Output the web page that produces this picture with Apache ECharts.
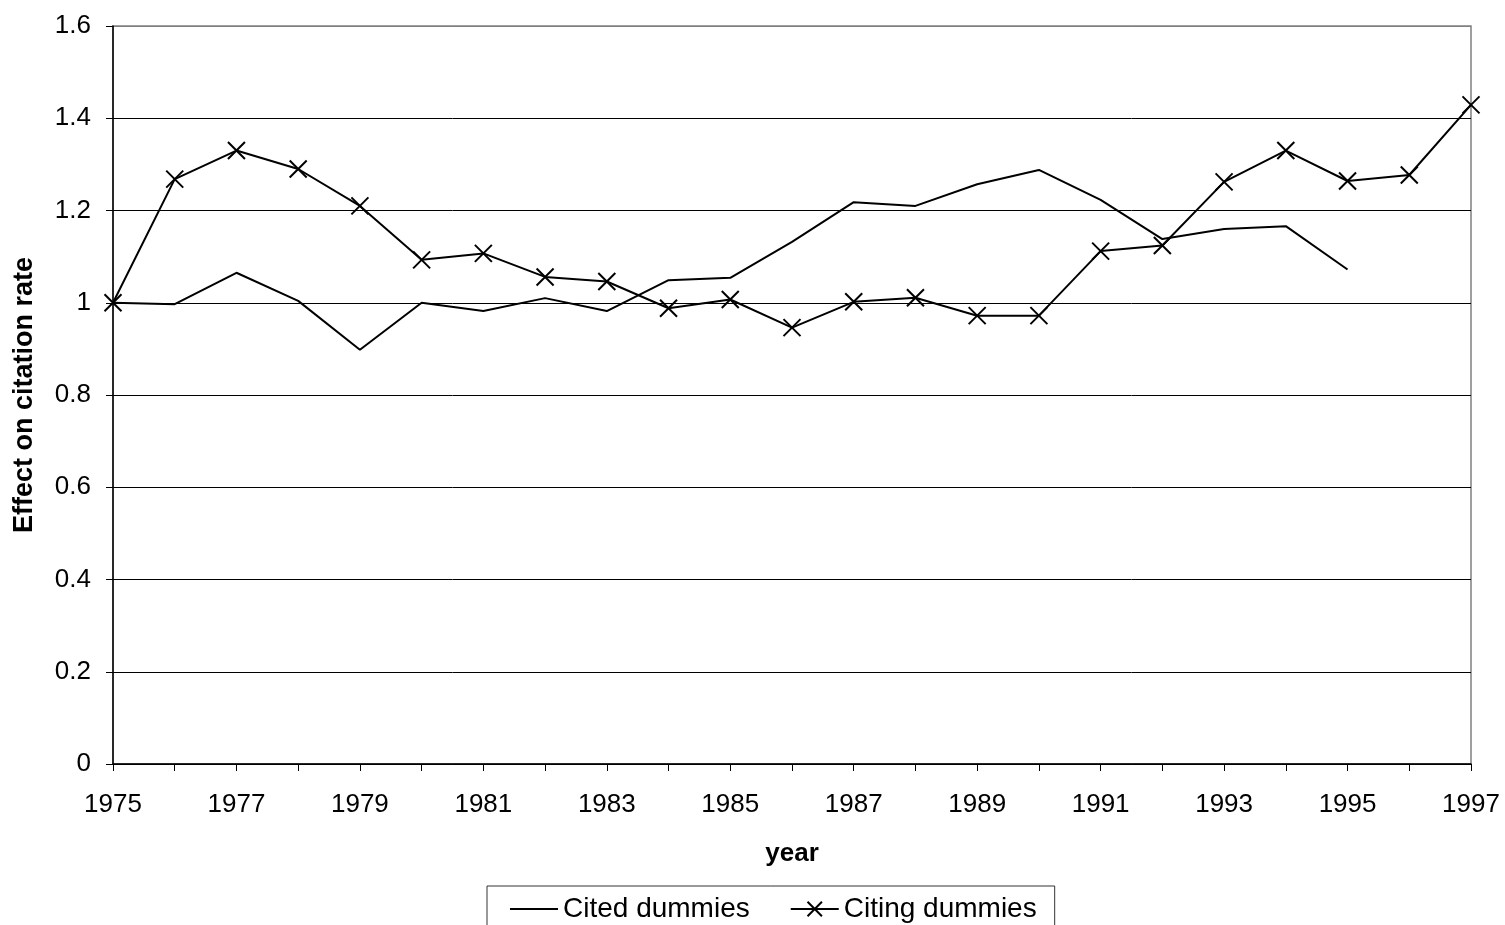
<!DOCTYPE html>
<html>
<head>
<meta charset="utf-8">
<script src="https://cdn.jsdelivr.net/npm/echarts@6/dist/echarts.min.js"></script>
<style>html,body{margin:0;padding:0;background:#fff;}#c{width:1505px;height:925px;}</style>
</head>
<body>
<div id="c"></div>
<script>
const years = ['1975','1976','1977','1978','1979','1980','1981','1982','1983','1984','1985','1986','1987','1988','1989','1990','1991','1992','1993','1994','1995','1996','1997'];
const citedDummies = [1.000,0.997,1.065,1.004,0.898,1.000,0.982,1.010,0.982,1.049,1.054,1.132,1.218,1.210,1.257,1.288,1.223,1.138,1.160,1.166,1.072,null,null];
const citingDummies = [1.000,1.268,1.330,1.290,1.210,1.093,1.107,1.056,1.046,0.988,1.007,0.946,1.002,1.011,0.972,0.972,1.112,1.124,1.262,1.330,1.264,1.277,1.429];
const yTicks = {min:0, max:1.6, interval:0.2};

const font = 'Liberation Sans, Arial, sans-serif';
const chart = echarts.init(document.getElementById('c'));
const xMark = 'path://M0,0L10,10M10,0L0,10';
chart.setOption({
  animation:false,
  backgroundColor:'#fff',
  grid:{left:113, right:34, top:26, bottom:161, outerBoundsMode:'none', containLabel:false, show:true, borderColor:'#808080', borderWidth:1.5, backgroundColor:'transparent'},
  legend:{
    left:487, top:886, orient:'horizontal',
    padding:[9,18,10,22], itemGap:40, itemWidth:48, itemHeight:18,
    borderColor:'#333', borderWidth:1, backgroundColor:'#fff',
    textStyle:{fontFamily:font, fontSize:28, color:'#000'},
    data:[{name:'Cited dummies', itemStyle:{opacity:0}}, 'Citing dummies']
  },
  xAxis:{
    type:'category', data:years, boundaryGap:false,
    name:'year', nameLocation:'middle', nameGap:77,
    nameTextStyle:{fontFamily:font, fontSize:26, fontWeight:'bold', color:'#000'},
    axisLine:{lineStyle:{color:'#000', width:1.5}},
    axisTick:{show:true, interval:0, length:7, lineStyle:{color:'#000'}},
    axisLabel:{interval:1, fontFamily:font, fontSize:26, color:'#000', margin:28},
    splitLine:{show:false}
  },
  yAxis:{
    type:'value', min:yTicks.min, max:yTicks.max, interval:yTicks.interval,
    name:'Effect on citation rate', nameLocation:'middle', nameGap:75, nameRotate:90,
    nameTextStyle:{fontFamily:font, fontSize:27, fontWeight:'bold', color:'#000'},
    axisLine:{show:true, lineStyle:{color:'#000', width:1.5}},
    axisTick:{show:true, length:7, lineStyle:{color:'#000'}},
    axisLabel:{fontFamily:font, fontSize:26, color:'#000', margin:22, formatter:v=>String(+v.toFixed(1))},
    splitLine:{show:true, lineStyle:{color:['#000','#000','#000','#000','#000','#000','#000','#000','#808080'], width:1}}
  },
  series:[
    {name:'Cited dummies', type:'line', data:citedDummies, symbol:'none', showSymbol:false,
     lineStyle:{color:'#000', width:2}, itemStyle:{color:'#000'}, connectNulls:false},
    {name:'Citing dummies', type:'line', data:citingDummies, symbol:xMark, symbolSize:17, showSymbol:true,
     lineStyle:{color:'#000', width:2}, itemStyle:{color:'#000', borderColor:'#000', borderWidth:2}}
  ]
});
</script>
</body>
</html>
